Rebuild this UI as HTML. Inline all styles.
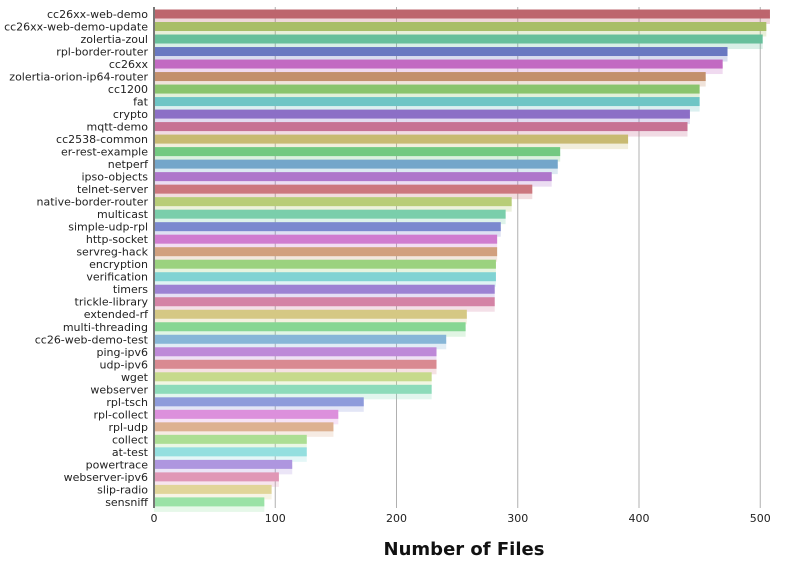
<!DOCTYPE html>
<html><head><meta charset="utf-8"><style>
body{margin:0;background:#fff;font-family:"Liberation Sans",sans-serif}
svg text{font-family:"DejaVu Sans","Liberation Sans",sans-serif}
</style></head><body>
<svg id="c" width="788" height="562"></svg>
<script>
const categories=["cc26xx-web-demo","cc26xx-web-demo-update","zolertia-zoul","rpl-border-router","cc26xx","zolertia-orion-ip64-router","cc1200","fat","crypto","mqtt-demo","cc2538-common","er-rest-example","netperf","ipso-objects","telnet-server","native-border-router","multicast","simple-udp-rpl","http-socket","servreg-hack","encryption","verification","timers","trickle-library","extended-rf","multi-threading","cc26-web-demo-test","ping-ipv6","udp-ipv6","wget","webserver","rpl-tsch","rpl-collect","rpl-udp","collect","at-test","powertrace","webserver-ipv6","slip-radio","sensniff"];
const values=[508,505,502,473,469,455,450,450,442,440,391,335,333,328,312,295,290,286,283,283,282,282,281,281,258,257,241,233,233,229,229,173,152,148,126,126,114,103,97,91];
const ticks=[0,100,200,300,400,500];
const NS="http://www.w3.org/2000/svg",svg=document.getElementById('c');
const x0=154,sx=1.2125,y0=14,dy=12.51;
const X=v=>x0+v*sx, Y=i=>y0+i*dy;
function mk(t,a,p){const e=document.createElementNS(NS,t);for(const k in a)e.setAttribute(k,a[k]);(p||svg).appendChild(e);return e;}
const hues=[355,75,155,230,300,25,100,180,260,335,50,130,205,280];
ticks.forEach(t=>{
 if(t>0){const g=mk('line',{x1:X(t),x2:X(t),y1:7,y2:508,stroke:'#b0b0b0','stroke-width':1});
 
 }
 const tl=mk('text',{x:X(t),y:522,'text-anchor':'middle','font-size':11,fill:'#222'});tl.textContent=t;
 
 
});
categories.forEach((c,i)=>{
 const h=hues[i%14],l=57+i*0.45,s=40+(i/39)*15;
 const sh=mk('rect',{x:X(0),y:Y(i)+1,width:values[i]*sx,height:9,fill:`hsla(${h},${s}%,${l}%,0.25)`});
 
 
 const r=mk('rect',{x:X(0),y:Y(i)-4.5,width:values[i]*sx,height:9,fill:`hsl(${h},${s}%,${l}%)`});
 
 
 const t=mk('text',{x:148,y:Y(i)+4,'text-anchor':'end','font-size':11,fill:'#222'});t.textContent=c;
 
 
});
const ax=mk('line',{x1:154,x2:154,y1:7,y2:508,stroke:'#777','stroke-width':2});


const tt=mk('text',{x:464,y:555,'text-anchor':'middle','font-size':18,'font-weight':'bold',fill:'#111'});tt.textContent='Number of Files';


</script>
</body></html>
